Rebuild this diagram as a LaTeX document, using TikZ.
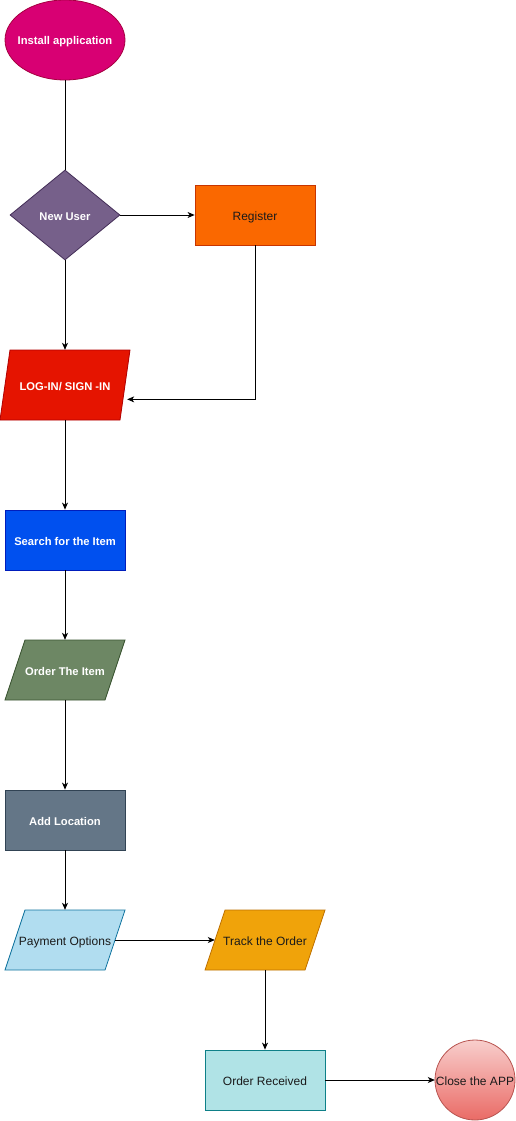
\documentclass[tikz,border=0pt]{standalone}
\usepackage{fontspec}
\setmainfont{Liberation Sans}
\usetikzlibrary{arrows.meta,shapes.geometric,calc}
\definecolor{instF}{HTML}{D80073}\definecolor{instD}{HTML}{A50040}
\definecolor{nuF}{HTML}{76608A}\definecolor{nuD}{HTML}{432D57}
\definecolor{regF}{HTML}{FA6800}\definecolor{regD}{HTML}{C73500}
\definecolor{logF}{HTML}{E51400}\definecolor{logD}{HTML}{B20000}
\definecolor{seaF}{HTML}{0050EF}\definecolor{seaD}{HTML}{001DBC}
\definecolor{ordF}{HTML}{6D8764}\definecolor{ordD}{HTML}{3A5431}
\definecolor{locF}{HTML}{647687}\definecolor{locD}{HTML}{314354}
\definecolor{payF}{HTML}{B1DDF0}\definecolor{payD}{HTML}{10739E}
\definecolor{trkF}{HTML}{F0A30A}\definecolor{trkD}{HTML}{BD7000}
\definecolor{recF}{HTML}{B0E3E6}\definecolor{recD}{HTML}{0E8088}
\definecolor{cloT}{HTML}{F8CECC}\definecolor{cloB}{HTML}{EA6B66}\definecolor{cloD}{HTML}{B85450}
\definecolor{txtD}{HTML}{1A1A1A}
\tikzset{
  lbl/.style={font=\fontsize{12}{14}\selectfont, inner sep=0pt, align=center, text height=10pt, text depth=0pt},
  wlbl/.style={lbl, text=white, font=\fontsize{11.2}{13}\selectfont\bfseries},
  blbl/.style={lbl, text=txtD},
  box/.style={draw=#1, line width=0.8pt, rectangle, minimum width=120pt, minimum height=60pt},
  ghost/.style={rectangle, minimum width=#1, minimum height=60pt},
  shapeline/.style={line width=0.8pt},
  conn/.style={line width=0.8pt, black},
  arr/.style={conn, -{Stealth[length=7pt,width=6pt,inset=2pt]}}
}
\begin{document}
\begin{tikzpicture}[x=1pt,y=-1pt]
\useasboundingbox (0,0) rectangle (516,1121);
% Install application
\node[ellipse, draw=instD, fill=instF, line width=0.8pt, minimum width=120pt, minimum height=80pt, inner sep=0pt] (inst) at (65,40) {};
\node[wlbl] (instT) at (inst.center) {Install application};
% New User
\node[diamond, draw=nuD, fill=nuF, line width=0.8pt, minimum width=110pt, minimum height=90pt, inner sep=0pt] (nu) at (65,215) {};
\node[wlbl] (nuT) at (nu.center) {New User};
% Register
\node[box=regD, fill=regF, blbl] (reg) at (255,215) {Register};
% Login parallelogram
\filldraw[shapeline, draw=logD, fill=logF] (10,350) -- (130,350) -- (120,420) -- (0,420) -- cycle;
\node[ghost=124pt, minimum height=70pt, wlbl] (login) at (65,385) {LOG-IN/ SIGN -IN};
% Search
\node[box=seaD, fill=seaF, wlbl] (search) at (65,540) {Search for the Item};
% Order The Item
\filldraw[shapeline, draw=ordD, fill=ordF] (25,640) -- (125,640) -- (105,700) -- (5,700) -- cycle;
\node[ghost=100pt, wlbl] (order) at (65,670) {Order The Item};
% Add Location
\node[box=locD, fill=locF, wlbl] (loc) at (65,820) {Add Location};
% Payment Options
\filldraw[shapeline, draw=payD, fill=payF] (25,910) -- (125,910) -- (105,970) -- (5,970) -- cycle;
\node[ghost=100pt, blbl] (pay) at (65,940) {Payment Options};
% Track the Order
\filldraw[shapeline, draw=trkD, fill=trkF] (225,910) -- (325,910) -- (305,970) -- (205,970) -- cycle;
\node[ghost=100pt, blbl] (track) at (265,940) {Track the Order};
% Order Received
\node[box=recD, fill=recF, blbl] (recv) at (265,1080) {Order Received};
% Close the APP
\shade[top color=cloT, bottom color=cloB] (475,1080) circle (40pt);
\draw[shapeline, draw=cloD] (475,1080) circle (40pt);
\node[circle, minimum size=80pt, blbl] (close) at (475,1080) {Close the APP};
% connectors
\draw[conn] (inst.south) -- (nu.north);
\draw[arr] (nu.east) -- (reg.west);
\draw[arr] (nu.south) -- (login.north);
\draw[arr] (reg.south) |- (login.-13.6);
\draw[arr] (login.south) -- (search.north);
\draw[arr] (search.south) -- (order.north);
\draw[arr] (order.south) -- (loc.north);
\draw[arr] (loc.south) -- (pay.north);
\draw[arr] (pay.east) -- (track.west);
\draw[arr] (track.south) -- (recv.north);
\draw[arr] (recv.east) -- (close.west);
\end{tikzpicture}
\end{document}
